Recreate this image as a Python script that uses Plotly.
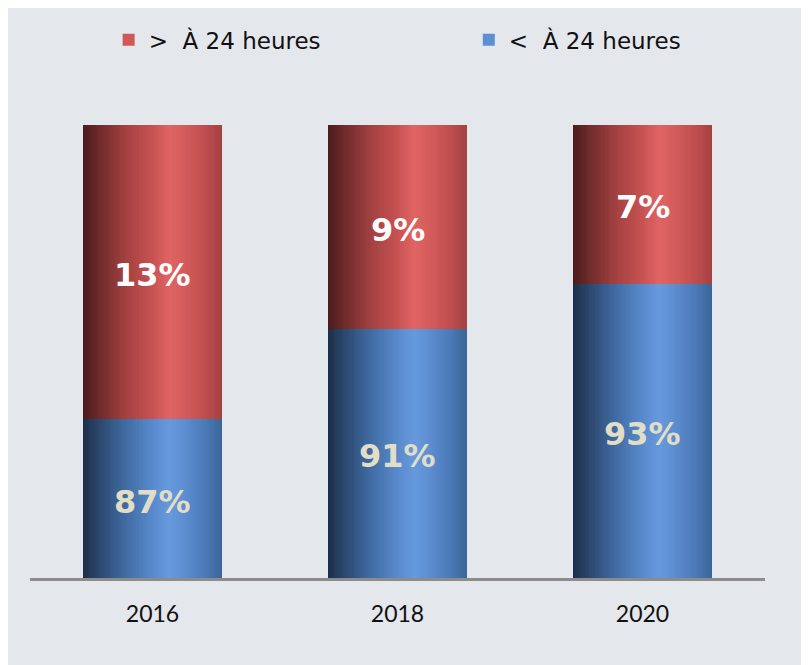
import plotly.graph_objects as go

# ---- data ----
years = ["2016", "2018", "2020"]
below_24h = [87, 91, 93]   # "< À 24 heures"
above_24h = [13, 9, 7]     # "> À 24 heures"
name_above = ">\u00a0\u00a0À 24 heures"
name_below = "<\u00a0\u00a0À 24 heures"

# ---- style ----
Y_MIN, Y_MAX = 80, 100
BAR_W = 0.567
N_SLICES = 60
LEGEND_SLICE = 32
BG = "#e4e7ec"

red_stops = [(0.0, (0x4a, 0x1c, 0x1c)), (0.12, (0x70, 0x2b, 0x2b)), (0.32, (0xa6, 0x42, 0x42)),
             (0.5, (0xc8, 0x52, 0x52)), (0.62, (0xe0, 0x64, 0x64)), (0.7, (0xd8, 0x5e, 0x5e)),
             (0.88, (0xc0, 0x4e, 0x4e)), (1.0, (0xa4, 0x40, 0x40))]
blue_stops = [(0.0, (0x1c, 0x2e, 0x48)), (0.12, (0x2c, 0x48, 0x6e)), (0.32, (0x42, 0x6e, 0xa6)),
              (0.5, (0x58, 0x8a, 0xcc)), (0.62, (0x66, 0x99, 0xdd)), (0.7, (0x5f, 0x91, 0xd4)),
              (0.88, (0x4c, 0x7a, 0xb8)), (1.0, (0x3a, 0x64, 0x96))]


def grad(stops, t):
    for (t0, c0), (t1, c1) in zip(stops[:-1], stops[1:]):
        if t0 <= t <= t1:
            f = (t - t0) / (t1 - t0) if t1 > t0 else 0
            c = [round(a + (b - a) * f) for a, b in zip(c0, c1)]
            return "rgb(%d,%d,%d)" % tuple(c)
    return "rgb(%d,%d,%d)" % stops[-1][1]


fig = go.Figure()

sw = BAR_W / N_SLICES
for i in range(N_SLICES):
    t = (i + 0.5) / N_SLICES
    w = sw if i == N_SLICES - 1 else sw * 1.6
    off = -BAR_W / 2 + i * sw
    leg = (i == LEGEND_SLICE)
    fig.add_trace(go.Bar(x=years, y=above_24h, base=below_24h, width=w, offset=off,
                         name=name_above, legendgroup="above", legend="legend",
                         marker=dict(color=grad(red_stops, t), line=dict(width=0)),
                         showlegend=leg, hoverinfo="skip"))
    fig.add_trace(go.Bar(x=years, y=below_24h, base=[0] * len(years), width=w, offset=off,
                         name=name_below, legendgroup="below", legend="legend2",
                         marker=dict(color=grad(blue_stops, t), line=dict(width=0)),
                         showlegend=leg, hoverinfo="skip"))

# data labels (x given as category index)
for idx, (b, a) in enumerate(zip(below_24h, above_24h)):
    fig.add_annotation(x=idx, y=(max(Y_MIN, 0) + b) / 2, text=f"{b}%", showarrow=False,
                       yshift=-3,
                       font=dict(family="DejaVu Sans", size=32, color="#e2ddc6", weight="bold"))
    fig.add_annotation(x=idx, y=b + a / 2, text=f"{a}%", showarrow=False,
                       yshift=-3,
                       font=dict(family="DejaVu Sans", size=32, color="#ffffff", weight="bold"))

legend_common = dict(orientation="h", xanchor="left", y=1.188, yanchor="middle",
                     font=dict(family="DejaVu Sans", size=23, color="#111111"),
                     bgcolor="rgba(0,0,0,0)")

fig.update_layout(
    width=809, height=665,
    margin=dict(l=22, r=52, t=117, b=95, autoexpand=False),
    paper_bgcolor=BG, plot_bgcolor=BG,
    barmode="overlay", bargap=0,
    legend=dict(x=0.107, **legend_common),
    legend2=dict(x=0.597, **legend_common),
    xaxis=dict(type="category", range=[-0.5, len(years) - 0.5], showline=True,
               linecolor="#8c8c8c", linewidth=3, ticks="",
               tickfont=dict(family="Lato", size=23, color="#111111"),
               ticklabelstandoff=13, showgrid=False, zeroline=False),
    yaxis=dict(range=[Y_MIN, Y_MAX], visible=False, showgrid=False, zeroline=False),
    showlegend=True,
)

fig.write_html("out.html")
